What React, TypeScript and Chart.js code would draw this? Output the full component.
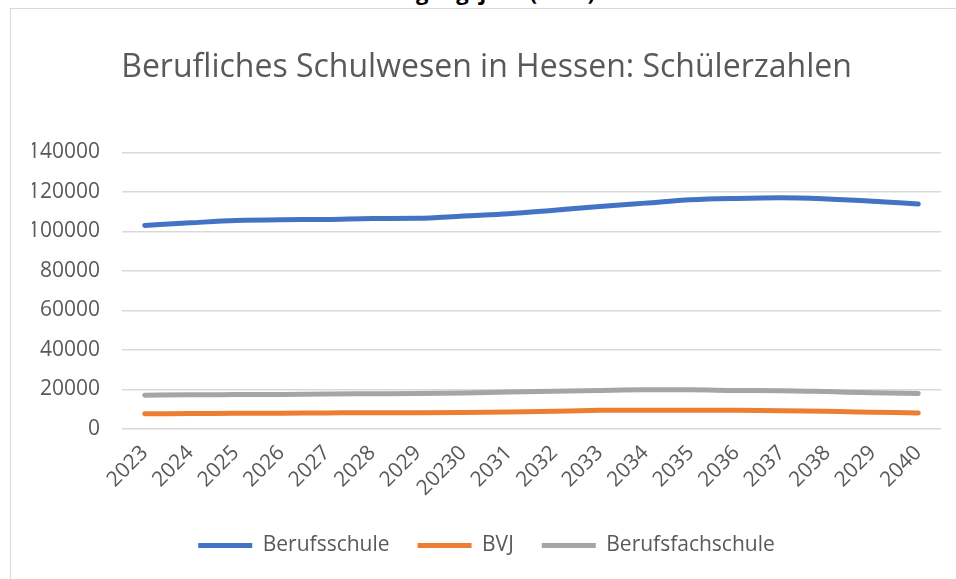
import React, { useEffect, useRef } from "react";
import { Chart, registerables } from "chart.js";

Chart.register(...registerables);

const years = ["2023", "2024", "2025", "2026", "2027", "2028", "2029", "20230", "2031", "2032", "2033", "2034", "2035", "2036", "2037", "2038", "2029", "2040"];
const berufsschule = [103000, 104300, 105500, 105900, 106000, 106500, 106600, 107800, 108900, 110700, 112600, 114300, 116000, 116700, 117000, 116400, 115300, 113800];
const bvj = [7600, 7700, 7800, 7900, 8000, 8100, 8100, 8200, 8500, 8900, 9300, 9400, 9400, 9300, 9100, 8800, 8400, 8000];
const berufsfachschule = [17000, 17200, 17300, 17400, 17600, 17700, 17800, 18100, 18600, 19000, 19400, 19700, 19700, 19400, 19300, 18800, 18200, 17900];
const seriesNames = ["Berufsschule", "BVJ", "Berufsfachschule"];
const seriesColors = ["#4472C4", "#ED7D31", "#A5A5A5"];
const titleText = "Berufliches Schulwesen in Hessen: Schülerzahlen";

const FONT = "'Open Sans', sans-serif";
const TXT = "#595959";

export default function App() {
  const ref = useRef<HTMLCanvasElement | null>(null);

  useEffect(() => {
    if (!ref.current) return;
    const data = [berufsschule, bvj, berufsfachschule];
    const chart = new Chart(ref.current, {
      type: "line",
      data: {
        labels: years,
        datasets: seriesNames.map((name, i) => ({
          label: name,
          data: data[i],
          borderColor: seriesColors[i],
          backgroundColor: seriesColors[i],
          borderWidth: 5,
          borderCapStyle: "round" as const,
          borderJoinStyle: "round" as const,
          pointRadius: 0,
          pointHoverRadius: 0,
          cubicInterpolationMode: "monotone" as const,
          fill: false,
          pointStyle: "line" as const,
        })),
      },
      options: {
        responsive: false,
        animation: false,
        layout: { padding: { left: 21, right: 15, top: 0, bottom: 13 } },
        plugins: {
          title: {
            display: true,
            text: titleText,
            color: TXT,
            font: { family: FONT, size: 32, weight: "normal" },
            padding: { top: 40, bottom: 65 },
          },
          legend: {
            position: "bottom",
            labels: {
              usePointStyle: true,
              pointStyle: "line",
              pointStyleWidth: 54,
              boxHeight: 21,
              color: TXT,
              font: { family: FONT, size: 21 },
              padding: 28,
            },
          },
          tooltip: { enabled: false },
        },
        scales: {
          x: {
            offset: true,
            grid: { display: false },
            border: { display: false },
            afterFit: (s: any) => {
              s.height = s.height + 2;
            },
            ticks: {
              color: TXT,
              font: { family: FONT, size: 21 },
              minRotation: 45,
              maxRotation: 45,
              autoSkip: false,
              padding: 4,
            },
          },
          y: {
            min: 0,
            max: 140000,
            afterFit: (s: any) => {
              s.width = 90;
            },
            grid: { color: "#D9D9D9", lineWidth: 1.5, drawTicks: false },
            border: { display: false },
            ticks: {
              stepSize: 20000,
              color: TXT,
              font: { family: FONT, size: 21 },
              padding: 22,
              callback: (v: any) => String(v),
            },
          },
        },
      },
    });
    return () => chart.destroy();
  }, []);

  return (
    <div style={{ position: "fixed", left: 0, top: 0, width: 956, height: 579, overflow: "hidden", background: "#fff" }}>
      <div
        style={{
          position: "absolute",
          right: 361,
          top: -20,
          fontFamily: "'Open Sans', sans-serif",
          fontWeight: "bold",
          fontSize: 22,
          lineHeight: "22px",
          color: "#000",
          whiteSpace: "nowrap",
          textAlign: "right",
        }}
      >
        Ausgangsjahr (2023)
      </div>
      <div
        style={{
          position: "absolute",
          left: 10,
          top: 8,
          width: 1000,
          height: 700,
          border: "1px solid #D9D9D9",
          boxSizing: "border-box",
        }}
      />
      <canvas ref={ref} width={945} height={570} style={{ position: "absolute", left: 11, top: 9, width: 945, height: 570 }} />
    </div>
  );
}
